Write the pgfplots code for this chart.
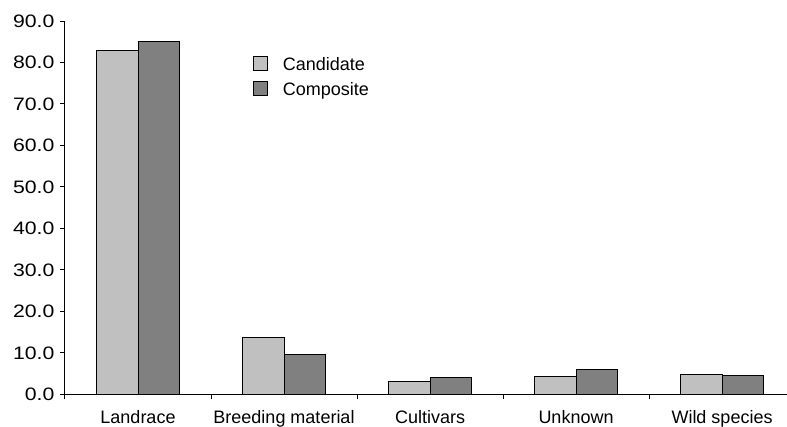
\documentclass[border=0pt]{standalone}
\usepackage{fontspec}
\setmainfont{Liberation Sans}
\newfontfamily\tickfont[FakeStretch=1.18]{Liberation Sans}
\usepackage{pgfplots}
\pgfplotsset{compat=1.18}

\definecolor{candfill}{HTML}{C0C0C0}
\definecolor{compfill}{HTML}{808080}

\begin{document}
\begin{tikzpicture}[x=1pt,y=1pt]
\path[use as bounding box] (0,0) rectangle (787,427);
\begin{axis}[
  at={(65pt,32.7pt)}, anchor=south west,
  scale only axis,
  width=722pt, height=373.3pt,
  xmin=-0.5, xmax=4.445,
  ymin=0, ymax=90,
  axis lines=left,
  axis line style={line width=1pt, -},
  ybar=0pt, bar width=41.3pt,
  xtick={0,1,2,3,4},
  xticklabels={Landrace,Breeding material,Cultivars,Unknown,Wild species},
  minor xtick={-0.5,0.5,1.5,2.5,3.5},
  major x tick style={draw=none},
  minor x tick style={line width=1pt, black},
  ytick={0,10,...,90},
  y tick style={line width=1pt, black},
  tick align=outside,
  major tick length=5pt, minor tick length=5pt,
  /pgf/number format/assume math mode=true,
  yticklabel={\pgfmathprintnumber[fixed,fixed zerofill,precision=1]{\tick}},
  xticklabel style={font=\fontsize{18}{21}\selectfont, yshift=-8pt},
  yticklabel style={font=\fontsize{18}{21}\tickfont, xshift=-2pt},
  legend style={draw=none, fill=none, inner sep=0pt, outer sep=0pt,
    at={(axis cs:0.786,81.6)}, anchor=north west,
    font=\fontsize{18}{21}\selectfont, row sep=6.7pt,
    nodes={inner sep=0pt, text height=13pt, text depth=4pt}},
  legend cell align=left,
  legend image code/.code={%
    \draw[#1, line width=1pt] (0pt,-4.5pt) rectangle (14pt,9.5pt);
    \path (29pt,0pt);},
  clip=false,
]
\addplot[fill=candfill, draw=black, line width=1pt] coordinates {(0,83.0) (1,13.6) (2,3.0) (3,4.3) (4,4.8)};
\addplot[fill=compfill, draw=black, line width=1pt] coordinates {(0,85.0) (1,9.5) (2,4.1) (3,6.0) (4,4.5)};
\legend{Candidate,Composite}
\end{axis}
\end{tikzpicture}
\end{document}
